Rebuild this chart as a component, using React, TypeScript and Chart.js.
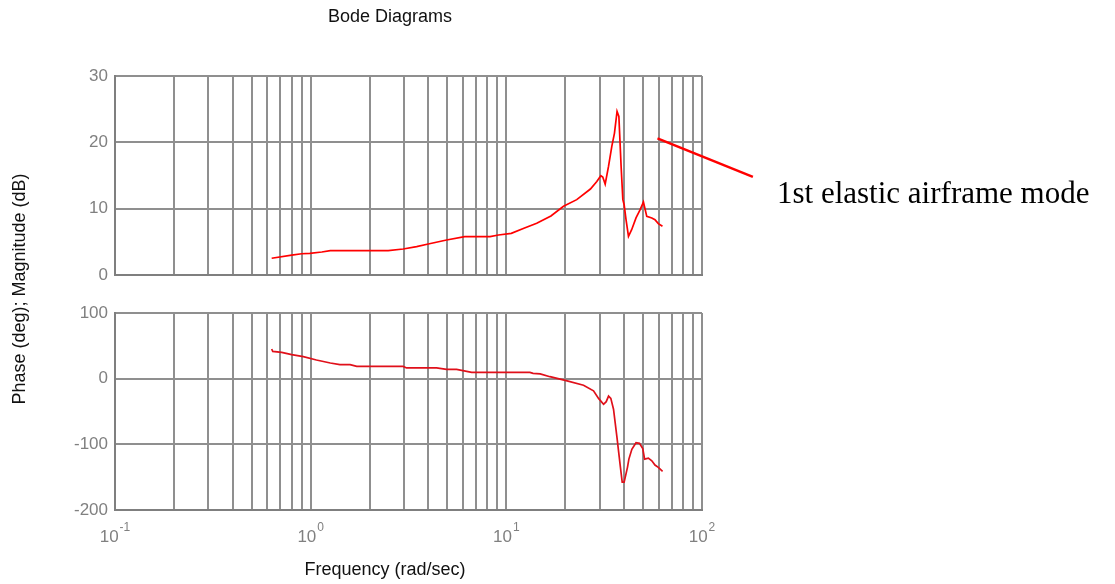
import { useEffect, useRef } from "react";
import { Chart, registerables } from "chart.js";

Chart.register(...registerables);

// ---------- data ----------
const magFreq = [
  0.632, 0.8, 0.9, 0.99, 1.14, 1.26, 2.49, 2.97, 3.48, 3.99, 4.95, 6.13, 8.26, 9.12,
  10.6, 12.3, 14.3, 16.9, 19.6, 22.9, 26.9, 29.0, 30.4, 31.1, 32.0, 33.3, 34.6, 35.7,
  36.8, 37.6, 38.6, 39.4, 40.0, 40.9, 42.1, 43.7, 46.0, 48.3, 50.2, 52.2, 55.4, 57.5,
  59.8, 62.8,
];
const magDb = [
  2.52, 3.0, 3.2, 3.27, 3.47, 3.67, 3.67, 3.92, 4.27, 4.67, 5.28, 5.78, 5.78, 6.03,
  6.28, 7.04, 7.79, 8.9, 10.35, 11.36, 12.96, 14.1, 14.97, 14.77, 13.7, 16.4, 19.4, 21.4,
  24.67, 23.9, 16.4, 11.36, 10.6, 8.34, 5.83, 6.83, 8.6, 9.85, 11.0, 8.84, 8.6, 8.34,
  7.74, 7.34,
];

const phaseFreq = [
  0.632, 0.64, 0.711, 0.8, 0.917, 1.07, 1.26, 1.41, 1.59, 1.72, 2.97, 3.09, 4.4, 4.95,
  5.57, 6.65, 13.2, 13.7, 14.9, 16.7, 20.0, 24.8, 27.9, 29.6, 31.4, 32.4, 33.3, 34.2,
  35.3, 36.7, 38.2, 39.1, 40.0, 41.6, 42.3, 43.8, 46.0, 47.9, 49.8, 50.9, 53.2, 55.4,
  57.5, 59.8, 62.9,
];
const phaseDeg = [
  45.2, 41.6, 40.0, 36.5, 33.5, 28.4, 23.9, 21.3, 21.3, 18.7, 18.7, 16.3, 16.3, 14.2,
  14.2, 9.6, 9.6, 8.1, 7.2, 3.0, -2.5, -10, -18.5, -30, -39, -35, -26.5, -30,
  -46.5, -87.5, -132.5, -157.5, -157.5, -135, -122.5, -107.5, -97.5, -98.5, -106.5, -122.5, -121, -125,
  -131.5, -135, -141,
];

// annotation pointer line (data coordinates of magnitude plot)
const annotFreq = [59.2, 182];
const annotDb = [20.6, 14.8];

const magTicks = [0, 10, 20, 30];
const phaseTicks = [-200, -100, 0, 100];
const xDecadeExponents = [-1, 0, 1, 2];
const gridMultipliers = [1, 2, 3, 4, 5, 6, 7, 8, 9];

const titleText = "Bode Diagrams";
const xLabelText = "Frequency (rad/sec)";
const yLabelText = "Phase (deg); Magnitude (dB)";
const annotText = "1st elastic airframe mode";

// ---------- style ----------
const W = 1115;
const H = 584;
const SANS = "'Liberation Sans', Arial, Helvetica, sans-serif";
const SERIF = "'Liberation Serif', 'Times New Roman', serif";
const GRID = "#8f8f8f";
const BORDER = "#7f7f7f";
const TICK = "#808080";
const AREA_LEFT = 115;
const AREA_RIGHT = 702;
const YAXIS_W = 50;

const gridValues: number[] = [];
xDecadeExponents.slice(0, -1).forEach((e) => {
  gridMultipliers.forEach((m) => gridValues.push(m * Math.pow(10, e)));
});
gridValues.push(Math.pow(10, xDecadeExponents[xDecadeExponents.length - 1]));

function xScaleOpts() {
  return {
    type: "logarithmic" as const,
    min: Math.pow(10, xDecadeExponents[0]),
    max: Math.pow(10, xDecadeExponents[xDecadeExponents.length - 1]),
    afterBuildTicks: (s: any) => {
      s.ticks = gridValues.map((v) => ({ value: v }));
    },
    afterFit: (s: any) => {
      s.height = 0;
    },
    ticks: { display: false },
    grid: { color: GRID, lineWidth: 2, drawTicks: false },
    border: { display: true, color: BORDER, width: 2 },
  };
}

function yScaleOpts(ticks: number[]) {
  return {
    type: "linear" as const,
    min: ticks[0],
    max: ticks[ticks.length - 1],
    afterBuildTicks: (s: any) => {
      s.ticks = ticks.map((v) => ({ value: v }));
    },
    afterFit: (s: any) => {
      s.width = YAXIS_W;
    },
    ticks: {
      color: TICK,
      font: { family: SANS, size: 17 },
      padding: 7,
      callback: (v: any) => String(v),
    },
    grid: { color: GRID, lineWidth: 2, drawTicks: false },
    border: { display: true, color: BORDER, width: 2 },
  };
}

const textPlugin = {
  id: "bodeText",
  afterDraw(chart: any) {
    const ctx = chart.ctx;
    const xs = chart.scales.x;
    const area = chart.chartArea;
    ctx.save();
    // decade labels with superscript exponents
    ctx.fillStyle = TICK;
    ctx.textBaseline = "alphabetic";
    ctx.textAlign = "left";
    xDecadeExponents.forEach((e) => {
      const px = xs.getPixelForValue(Math.pow(10, e));
      ctx.font = `17px ${SANS}`;
      const wBase = ctx.measureText("10").width;
      ctx.font = `12px ${SANS}`;
      const expStr = String(e);
      const wExp = ctx.measureText(expStr).width;
      const total = wBase + 1 + wExp;
      const x0 = px - total / 2;
      const base = area.bottom + 32;
      ctx.font = `17px ${SANS}`;
      ctx.fillText("10", x0, base);
      ctx.font = `12px ${SANS}`;
      ctx.fillText(expStr, x0 + wBase + 1, base - 11);
    });

    // title
    ctx.fillStyle = "#111";
    ctx.font = `18px ${SANS}`;
    ctx.textAlign = "center";
    ctx.fillText(titleText, 390, 21.5);

    // x label
    ctx.fillText(xLabelText, 385, 575);

    // y label
    ctx.save();
    ctx.translate(25, 289);
    ctx.rotate(-Math.PI / 2);
    ctx.textAlign = "center";
    ctx.fillText(yLabelText, 0, 0);
    ctx.restore();

    // annotation text
    ctx.fillStyle = "#000";
    ctx.font = `31px ${SERIF}`;
    ctx.textAlign = "left";
    ctx.fillText(annotText, 777, 203);
    ctx.restore();
  },
};

export default function App() {
  const magRef = useRef<HTMLCanvasElement | null>(null);
  const phaseRef = useRef<HTMLCanvasElement | null>(null);

  useEffect(() => {
    const magChart = new Chart(magRef.current as HTMLCanvasElement, {
      type: "line",
      data: {
        datasets: [
          {
            data: magFreq.map((f, i) => ({ x: f, y: magDb[i] })),
            borderColor: "#ff0000",
            borderWidth: 1.7,
            pointRadius: 0,
            tension: 0,
          },
          {
            data: annotFreq.map((f, i) => ({ x: f, y: annotDb[i] })),
            borderColor: "#ff0000",
            borderWidth: 2.5,
            pointRadius: 0,
            tension: 0,
            clip: false as any,
          },
        ],
      },
      options: {
        responsive: false,
        animation: false,
        events: [],
        layout: {
          padding: { left: AREA_LEFT - YAXIS_W, right: W - AREA_RIGHT, top: 76, bottom: H - 275 },
        },
        plugins: { legend: { display: false }, tooltip: { enabled: false }, title: { display: false } },
        scales: { x: xScaleOpts() as any, y: yScaleOpts(magTicks) as any },
      },
    });

    const phaseChart = new Chart(phaseRef.current as HTMLCanvasElement, {
      type: "line",
      data: {
        datasets: [
          {
            data: phaseFreq.map((f, i) => ({ x: f, y: phaseDeg[i] })),
            borderColor: "#e0101a",
            borderWidth: 1.7,
            pointRadius: 0,
            tension: 0,
          },
        ],
      },
      options: {
        responsive: false,
        animation: false,
        events: [],
        layout: {
          padding: { left: AREA_LEFT - YAXIS_W, right: W - AREA_RIGHT, top: 313, bottom: H - 510 },
        },
        plugins: { legend: { display: false }, tooltip: { enabled: false }, title: { display: false } },
        scales: { x: xScaleOpts() as any, y: yScaleOpts(phaseTicks) as any },
      },
      plugins: [textPlugin],
    });

    return () => {
      magChart.destroy();
      phaseChart.destroy();
    };
  }, []);

  const canvasStyle: React.CSSProperties = {
    position: "absolute",
    left: 0,
    top: 0,
    width: W,
    height: H,
    display: "block",
  };

  return (
    <div style={{ position: "fixed", left: 0, top: 0, width: W, height: H, background: "#fff" }}>
      <canvas ref={magRef} width={W} height={H} style={canvasStyle} />
      <canvas ref={phaseRef} width={W} height={H} style={canvasStyle} />
    </div>
  );
}
